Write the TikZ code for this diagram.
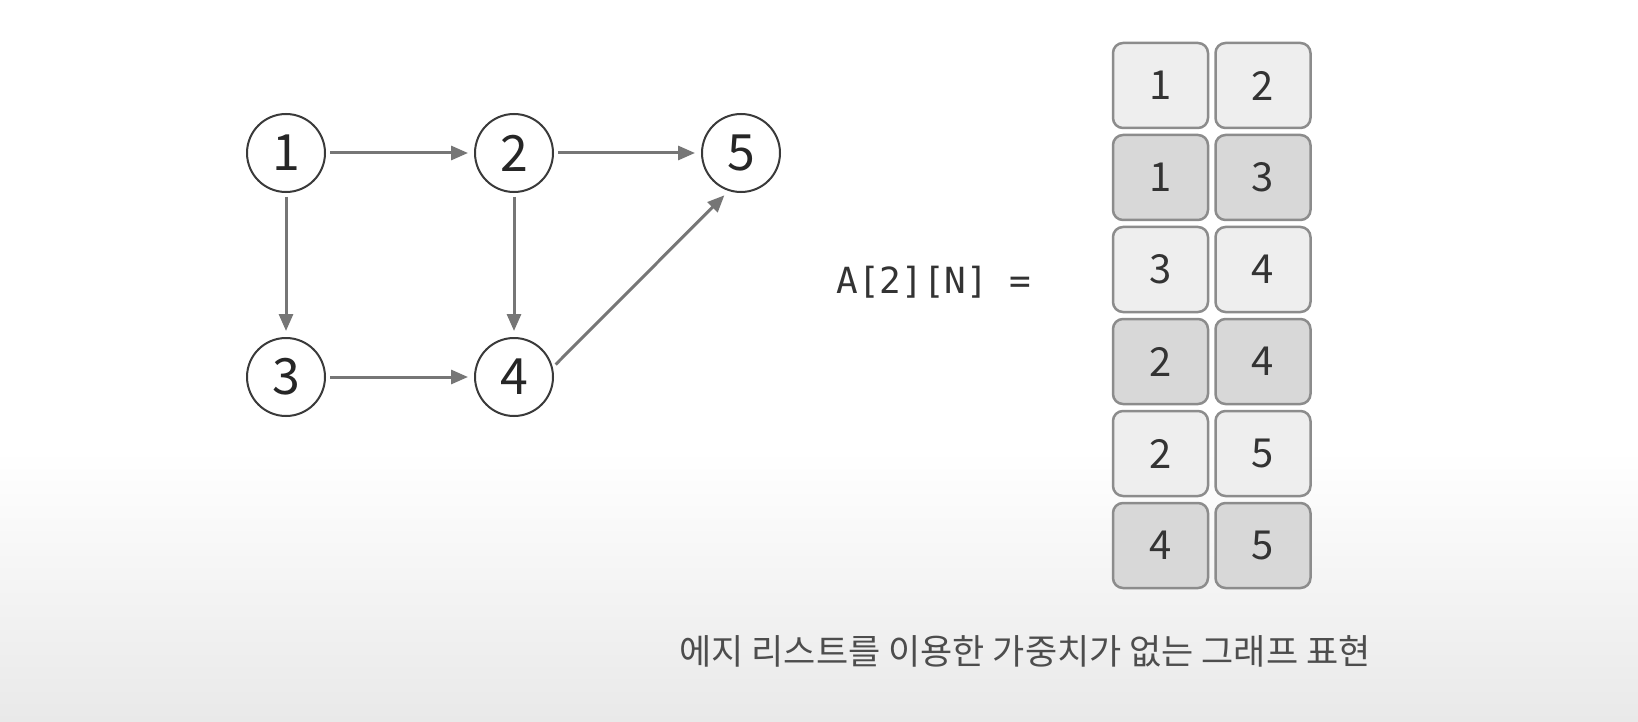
\documentclass[tikz,border=0pt]{standalone}
\usepackage{fontspec}
\setmainfont{Noto Sans CJK KR}
\newfontfamily\codefont{DejaVu Sans Mono}
\usepackage{tikz}
\usetikzlibrary{arrows.meta}
\definecolor{edgegray}{HTML}{767676}
\definecolor{ringgray}{HTML}{3A3A3A}
\definecolor{cellline}{HTML}{8C8C8C}
\definecolor{celllight}{HTML}{EEEEEE}
\definecolor{celldark}{HTML}{D8D8D8}
\definecolor{capgray}{HTML}{4D4D4D}
\definecolor{bgbottom}{HTML}{E9E9E9}

\begin{document}
\begin{tikzpicture}[x=1pt,y=-1pt,->,>={Triangle[length=17pt,width=14pt]},
  shorten >=6pt,shorten <=4pt,
  graph node/.style={circle,draw=ringgray,line width=2pt,fill=white,minimum size=78pt,
    inner sep=0pt,text=black!85,font=\fontsize{50}{50}\selectfont},
  cell node/.style={draw=cellline,line width=2.5pt,rounded corners=10pt,minimum width=95pt,
    minimum height=85pt,inner sep=0pt,text=black!80,font=\fontsize{40}{40}\selectfont}]

\useasboundingbox (0,0) rectangle (1638,722);
\fill[white,-] (0,0) rectangle (1638,722);
\shade[-,top color=white,bottom color=bgbottom] (0,450) rectangle (1638,722);

\foreach \a/\x/\y in {1/286/153,2/514/153,5/741/153,3/286/377,4/514/377}{
  \node[graph node] (v\a) at (\x,\y) {\a};
}

\path[every edge/.style={draw=edgegray,line width=3pt}]

(v1) edge (v2)
     edge (v3)
(v2) edge (v5)
     edge (v4)
(v3) edge (v4)
(v4.14) edge (v5.252)
;

\node[anchor=west,text=black!80,font=\codefont\fontsize{36}{36}\selectfont] (arr) at (833,282) {A[2][N] =};

\foreach \u/\v [count=\r] in {1/2,1/3,3/4,2/4,2/5,4/5}{
  \pgfmathsetmacro\rowy{85.5+92*(\r-1)}
  \ifodd\r \def\cellfill{celllight}\else \def\cellfill{celldark}\fi
  \node[cell node,fill=\cellfill] (a\r) at (1160.5,\rowy) {\u};
  \node[cell node,fill=\cellfill] (b\r) at (1263,\rowy) {\v};
}

\node[text=capgray,font=\fontsize{35}{35}\selectfont] (caption) at (1025,651) {에지 리스트를 이용한 가중치가 없는 그래프 표현};
\end{tikzpicture}
\end{document}
